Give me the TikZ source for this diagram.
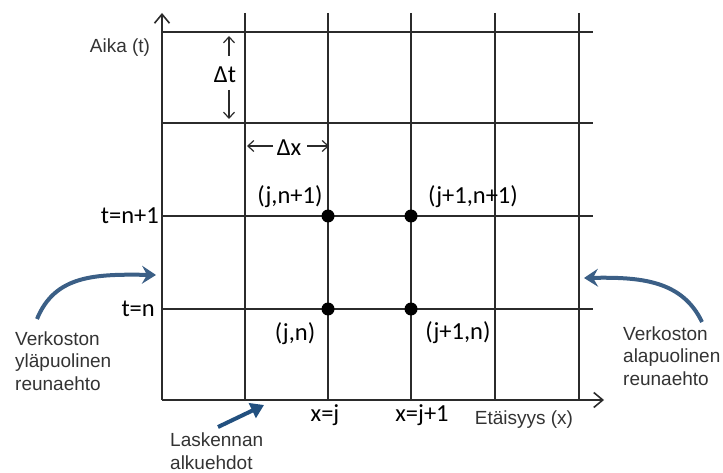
\documentclass[tikz,border=0pt]{standalone}
\usepackage{fontspec}
\setmainfont{Liberation Sans}
\newfontfamily\calfont{Carlito}
\usetikzlibrary{arrows.meta}
\definecolor{gridc}{HTML}{2B2B2B}
\definecolor{txtc}{HTML}{333333}
\definecolor{blueA}{HTML}{3B5F86}
\definecolor{blueB}{HTML}{22507F}
\tikzset{
  lbl/.style={font=\fontsize{19}{22.5}\selectfont, text=txtc, inner sep=0pt, align=left},
  clbl/.style={font=\calfont\fontsize{24.5}{27}\selectfont, text=black, inner sep=0pt},
  gridl/.style={draw=gridc, line width=1.3pt},
  axisl/.style={draw=gridc, line width=1.8pt, -{Straight Barb[length=9pt,width=15pt,line width=1.6pt]}},
  smallarr/.style={draw=gridc, line width=1.2pt, -{Straight Barb[length=6pt,width=11pt,line width=1.2pt]}},
  dotn/.style={circle, fill=black, minimum size=13pt, inner sep=0pt},
  bluearr/.style={draw=blueA, line width=4pt, -{Stealth[length=14pt,width=18pt,inset=5pt]}},
  bluearrB/.style={draw=blueB, line width=4pt, -{Triangle[length=13pt,width=16pt]}}
}
\begin{document}
\begin{tikzpicture}[x=1pt,y=-1pt]
\useasboundingbox (0,0) rectangle (723,473);
% grid
\foreach \gx in {245,328,411,495,579} \draw[gridl] (\gx,13) -- (\gx,400);
\foreach \gy in {32,123,216,309} \draw[gridl] (162,\gy) -- (593,\gy);
% axes
\coordinate (O) at (162,400);
\coordinate (ytip) at (162,13);
\coordinate (xtip) at (604,400);
\draw[axisl] (O) -- (ytip);
\draw[axisl] (O) -- (xtip);
% dots
\node[dotn] (d1) at (328,216) {};
\node[dotn] (d2) at (411,216) {};
\node[dotn] (d3) at (328,309) {};
\node[dotn] (d4) at (411,309) {};
% labels
\node[lbl] (aika) at (120,48) {Aika (t)};
\node[lbl] (etaisyys) at (524,420) {Etäisyys (x)};
\node[clbl] (l1) at (290,197) {(j,n+1)};
\node[clbl] (l2) at (473,197) {(j+1,n+1)};
\node[clbl] (l3) at (295,334) {(j,n)};
\node[clbl] (l4) at (458,333) {(j+1,n)};
\node[clbl, anchor=east] (tn1) at (159,216) {t=n+1};
\node[clbl, anchor=east] (tn) at (155,309) {t=n};
\node[clbl] (xj) at (325,415) {x=j};
\node[clbl] (xj1) at (422,415) {x=j+1};
% delta t
\node[clbl] (dt) at (225,75) {Δt};
\coordinate (dtA1) at (229,56);
\coordinate (dtA2) at (229,36);
\coordinate (dtB1) at (229,90);
\coordinate (dtB2) at (229,119);
\draw[smallarr] (dtA1) -- (dtA2);
\draw[smallarr] (dtB1) -- (dtB2);
% delta x
\node[clbl] (dx) at (289,148) {Δx};
\coordinate (dxA1) at (273,146);
\coordinate (dxA2) at (247,146);
\coordinate (dxB1) at (307,146);
\coordinate (dxB2) at (329,146);
\draw[smallarr] (dxA1) -- (dxA2);
\draw[smallarr] (dxB1) -- (dxB2);
% side texts
\node[lbl, anchor=west] (ylap) at (15,361) {Verkoston\\yläpuolinen\\reunaehto};
\node[lbl, anchor=west] (alap) at (623,356) {Verkoston\\alapuolinen\\reunaehto};
\node[lbl, anchor=west] (lask) at (170,451) {Laskennan\\alkuehdot};
% blue arrows
\coordinate (bl0) at (37,319);
\coordinate (bl1) at (156,275);
\draw[bluearr] (bl0) .. controls (55,275) and (95,274) .. (bl1);
\coordinate (br0) at (702,322);
\coordinate (br1) at (584,278);
\draw[bluearr] (br0) .. controls (682,280) and (640,277) .. (br1);
\coordinate (bb0) at (218,427);
\coordinate (bb1) at (264,405);
\draw[bluearrB] (bb0) -- (bb1);
\end{tikzpicture}
\end{document}
